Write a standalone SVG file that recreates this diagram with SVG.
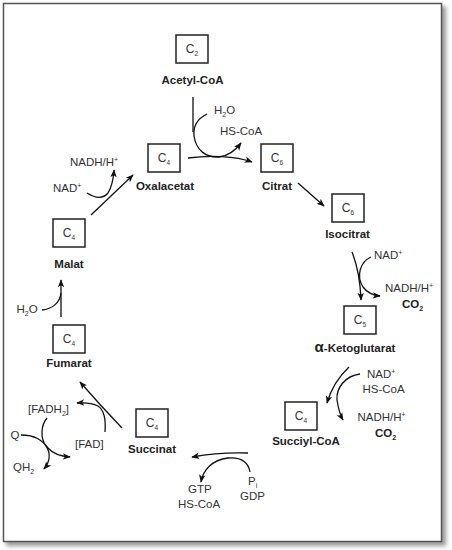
<svg xmlns="http://www.w3.org/2000/svg" width="452" height="550" viewBox="0 0 452 550">
<defs>
<filter id="sh" x="-5%" y="-5%" width="110%" height="110%"><feGaussianBlur stdDeviation="2"/></filter>
<marker id="ah" viewBox="0 0 10 10" refX="9" refY="5" markerWidth="8" markerHeight="8" markerUnits="userSpaceOnUse" orient="auto"><path d="M0,1 L10,5 L0,9 L2.5,5 z" fill="#111"/></marker>
</defs>
<style>
.box{fill:none;stroke:#222;stroke-width:1.5}
.c{font-family:"Liberation Sans",Arial,sans-serif;font-size:12px;fill:#333;text-anchor:middle}
.n{font-family:"Liberation Sans",Arial,sans-serif;font-size:11.5px;font-weight:bold;fill:#222;text-anchor:middle}
.t{font-family:"Liberation Sans",Arial,sans-serif;font-size:11.5px;fill:#333}
.b{font-family:"Liberation Sans",Arial,sans-serif;font-size:11.5px;font-weight:bold;fill:#222}
.ln{fill:none;stroke:#111;stroke-width:1.3}
.ar{marker-end:url(#ah)}
</style>
<rect x="6" y="6" width="440" height="540" fill="#999" filter="url(#sh)"/>
<rect x="3.5" y="3.5" width="438" height="538" fill="#fff" stroke="#555" stroke-width="1.5"/>

<g id="acetylcoa">
<rect class="box" x="176" y="35" width="32" height="28"/>
<text class="c" x="192" y="53">C<tspan font-size="6.5" dy="3">2</tspan></text>
<text class="n" x="192.5" y="84">Acetyl-CoA</text>
</g>
<g id="oxalacetat">
<rect class="box" x="148" y="144" width="32" height="28"/>
<text class="c" x="164" y="162">C<tspan font-size="6.5" dy="3">4</tspan></text>
<text class="n" x="165" y="190">Oxalacetat</text>
</g>
<g id="citrat">
<rect class="box" x="261" y="144" width="32" height="28"/>
<text class="c" x="277" y="162">C<tspan font-size="6.5" dy="3">6</tspan></text>
<text class="n" x="277" y="190">Citrat</text>
</g>
<g id="isocitrat">
<rect class="box" x="332" y="194" width="32" height="28"/>
<text class="c" x="348" y="212">C<tspan font-size="6.5" dy="3">6</tspan></text>
<text class="n" x="347.5" y="238">Isocitrat</text>
</g>
<g id="ketoglutarat">
<rect class="box" x="344" y="306" width="32" height="28"/>
<text class="c" x="360" y="324">C<tspan font-size="6.5" dy="3">5</tspan></text>
<text class="n" x="355" y="351.5"><tspan font-size="15">α</tspan>-Ketoglutarat</text>
</g>
<g id="succinylcoa">
<rect class="box" x="285" y="402" width="32" height="28"/>
<text class="c" x="301" y="420">C<tspan font-size="6.5" dy="3">4</tspan></text>
<text class="n" x="306" y="445">Succiyl-CoA</text>
</g>
<g id="succinat">
<rect class="box" x="136" y="409" width="32" height="28"/>
<text class="c" x="152" y="427">C<tspan font-size="6.5" dy="3">4</tspan></text>
<text class="n" x="152" y="453">Succinat</text>
</g>
<g id="fumarat">
<rect class="box" x="53" y="325" width="32" height="28"/>
<text class="c" x="69" y="343">C<tspan font-size="6.5" dy="3">4</tspan></text>
<text class="n" x="69" y="366.5">Fumarat</text>
</g>
<g id="malat">
<rect class="box" x="53" y="219" width="32" height="28"/>
<text class="c" x="69" y="237">C<tspan font-size="6.5" dy="3">4</tspan></text>
<text class="n" x="69" y="267.5">Malat</text>
</g>

<g id="connectors">
<path class="ln" d="M193,97 L193,132"/>
<path class="ln ar" d="M207,114 C197,119 193,127 194,136 C196,150 206,158 219,157 C228,156 235,151 241,143"/>
<path class="ln ar" d="M188,158 C210,155 235,156 252,162"/>
<path class="ln ar" d="M298,183 L324,206"/>
<path class="ln ar" d="M352,252 Q360,272 361,300"/>
<path class="ln ar" d="M371,257 C360,262 356,276 363,287 Q369,295 380,296"/>
<path class="ln ar" d="M349,367 Q333,382 327,403"/>
<path class="ln ar" d="M360,374 C345,376 336,388 337,400 Q339,413 343,420"/>
<path class="ln ar" d="M248,453 Q220,452 192,457"/>
<path class="ln ar" d="M250,472 C248,461 240,457 228,458 C212,460 203,470 201,482"/>
<path class="ln ar" d="M122,428 Q100,405 80,382"/>
<path class="ln ar" d="M105,432 C106,419 104,410 98,406 Q90,402 77,403"/>
<path class="ln ar" d="M21,435 C35,435 42,440 48,448 Q55,456 70,457"/>
<path class="ln ar" d="M47,418 C41,425 40,438 46,446 C51,453 50,462 44,469"/>
<path class="ln ar" d="M61,317 L61,280"/>
<path class="ln" d="M42,310 C52,309 60,303 61,293"/>
<path class="ln ar" d="M91,215 L133,175"/>
<path class="ln ar" d="M87,193 C95,198 103,199 108,193 Q113,185 114,170"/>
</g>

<g id="labels">
<text class="t" x="214" y="114">H<tspan font-size="7" dy="3">2</tspan><tspan dy="-3">O</tspan></text>
<text class="t" x="220" y="135">HS-CoA</text>
<text class="t" x="70" y="166">NADH/H<tspan font-size="7" dy="-4">+</tspan></text>
<text class="t" x="53" y="191.5">NAD<tspan font-size="7" dy="-4">+</tspan></text>
<text class="t" x="374" y="259">NAD<tspan font-size="7" dy="-4">+</tspan></text>
<text class="t" x="385" y="291.5">NADH/H<tspan font-size="7" dy="-4">+</tspan></text>
<text class="b" x="402" y="308">CO<tspan font-size="7" dy="3">2</tspan></text>
<text class="t" x="367" y="377.5">NAD<tspan font-size="7" dy="-4">+</tspan></text>
<text class="t" x="362.5" y="393">HS-CoA</text>
<text class="t" x="357.5" y="421">NADH/H<tspan font-size="7" dy="-4">+</tspan></text>
<text class="b" x="375" y="437">CO<tspan font-size="7" dy="3">2</tspan></text>
<text class="t" x="188" y="493">GTP</text>
<text class="t" x="178" y="508">HS-CoA</text>
<text class="t" x="248" y="485">P<tspan font-size="7" dy="3">i</tspan></text>
<text class="t" x="240" y="500">GDP</text>
<text class="t" x="28" y="412.5">[FADH<tspan font-size="7" dy="3">2</tspan><tspan dy="-3">]</tspan></text>
<text class="t" x="75" y="447.5">[FAD]</text>
<text class="t" x="10.5" y="439">Q</text>
<text class="t" x="13" y="470.5">QH<tspan font-size="7" dy="3">2</tspan></text>
<text class="t" x="16.5" y="313">H<tspan font-size="7" dy="3">2</tspan><tspan dy="-3">O</tspan></text>
</g>
</svg>
